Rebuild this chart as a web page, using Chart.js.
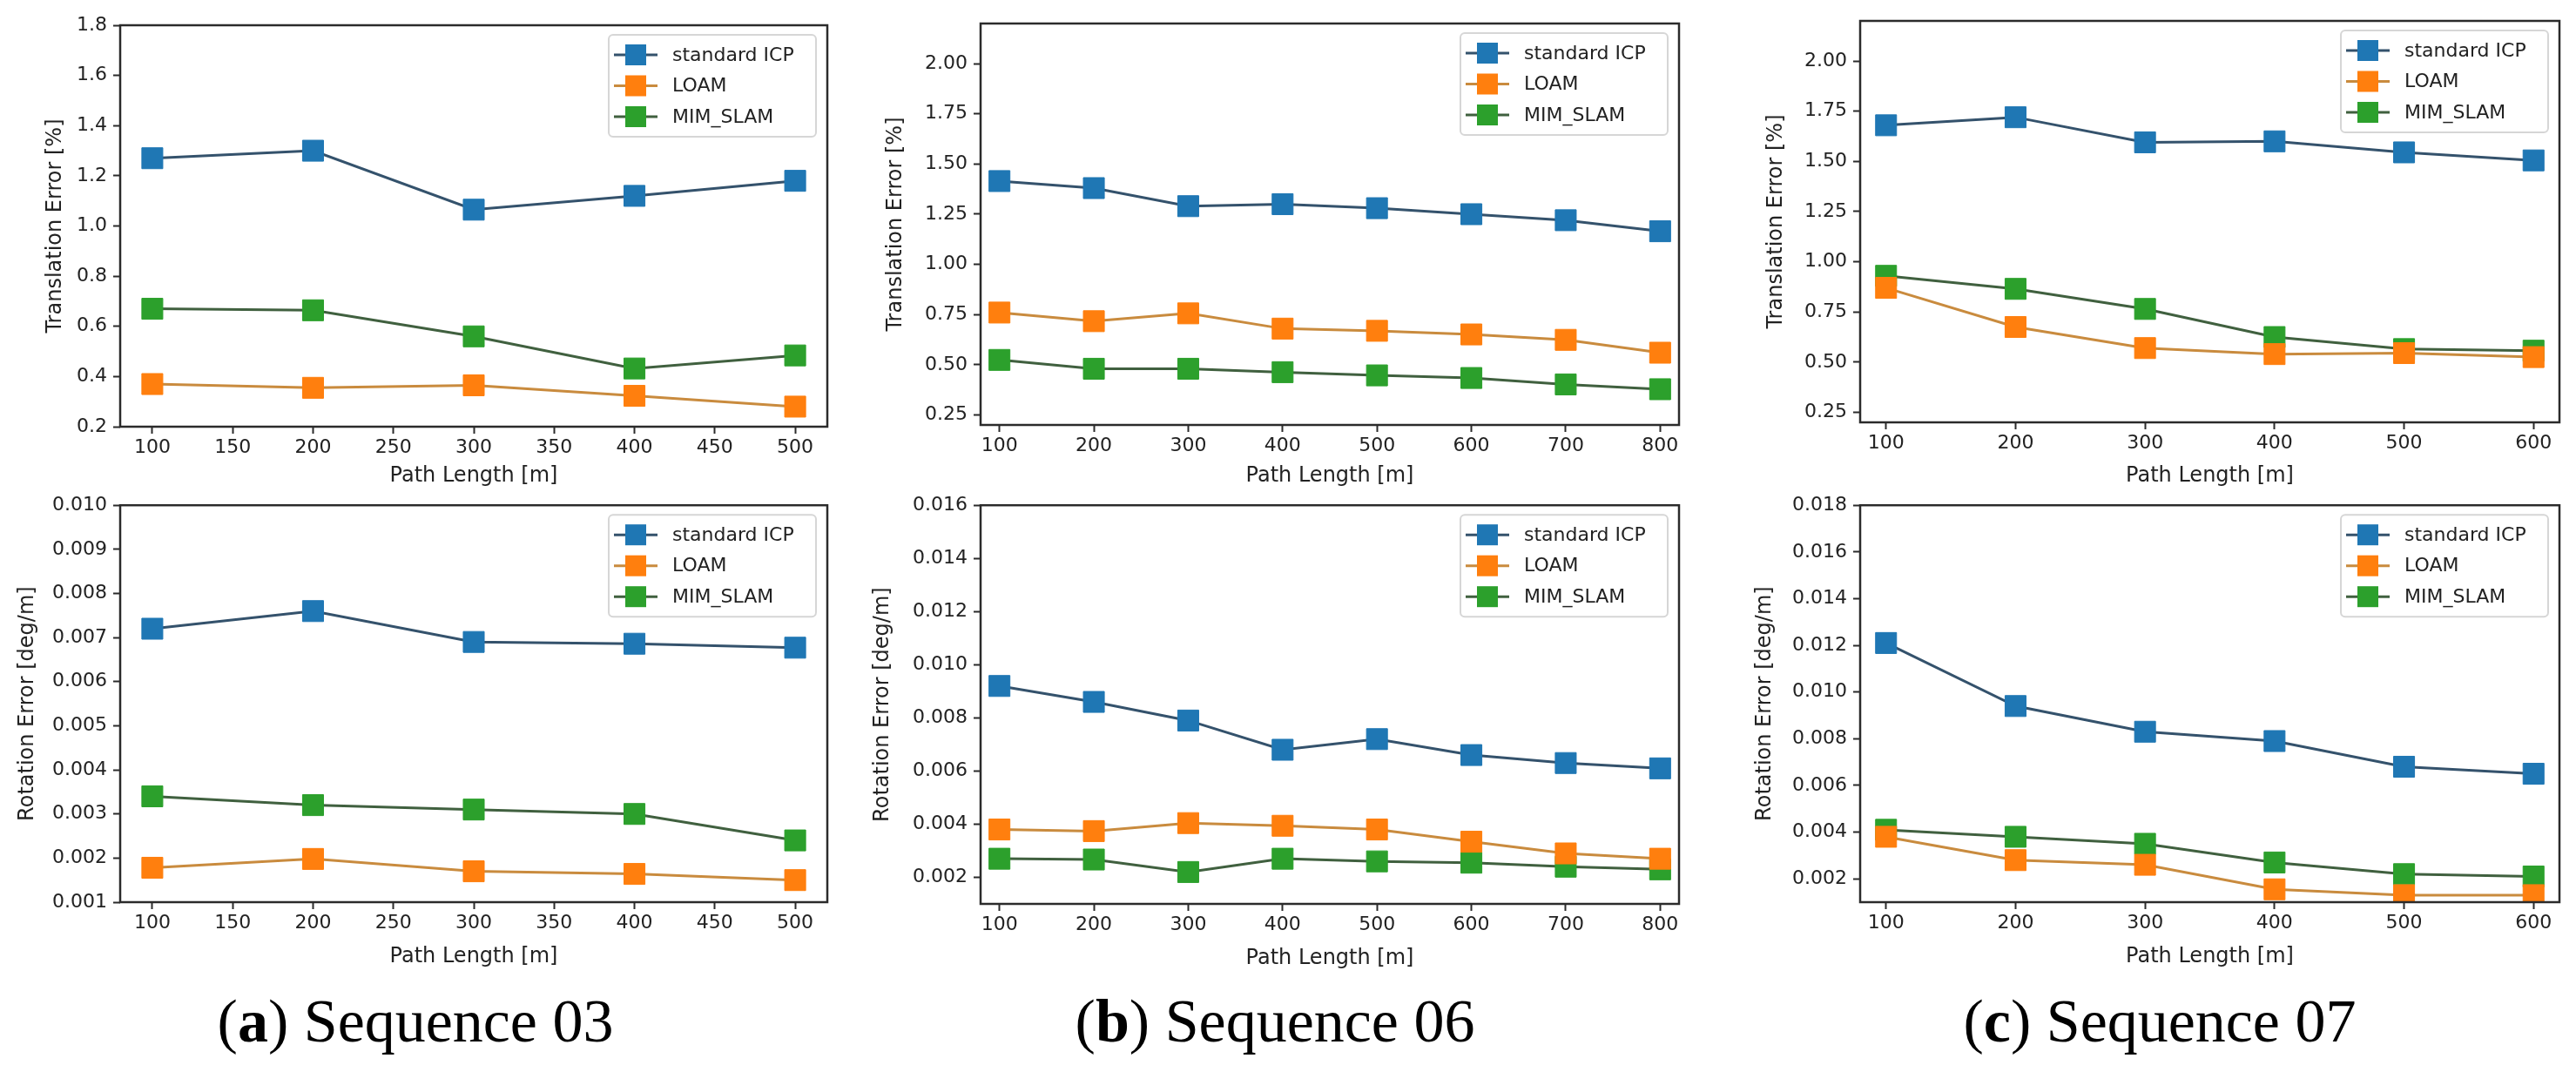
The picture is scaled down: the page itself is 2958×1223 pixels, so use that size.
<!DOCTYPE html>
<html>
<head>
<meta charset="utf-8">
<script src="https://cdn.jsdelivr.net/npm/chart.js@4"></script>
<style>
  html, body { margin: 0; padding: 0; background: #ffffff; }
  body { width: 2958px; height: 1223px; position: relative; overflow: hidden; }
  canvas { position: absolute; }
  .cap { position: absolute; width: 700px; text-align: center; font-family: "Liberation Serif", "DejaVu Serif", serif; font-size: 70px; line-height: 70px; color: #000; }
</style>
</head>
<body>
<canvas id="c0"></canvas>
<canvas id="c1"></canvas>
<canvas id="c2"></canvas>
<canvas id="c3"></canvas>
<canvas id="c4"></canvas>
<canvas id="c5"></canvas>
<div class="cap" style="left:127px; top:1138px;">(<b>a</b>) Sequence 03</div>
<div class="cap" style="left:1114px; top:1138px;">(<b>b</b>) Sequence 06</div>
<div class="cap" style="left:2130px; top:1138px;">(<b>c</b>) Sequence 07</div>
<script>
// ---------- DATA ----------
const seriesNames = ["standard ICP", "LOAM", "MIM_SLAM"];

const seq03Lengths = [100, 200, 300, 400, 500];
const seq03TransICP  = [1.27, 1.30, 1.065, 1.12, 1.18];
const seq03TransLOAM = [0.37, 0.355, 0.365, 0.323, 0.28];
const seq03TransMIM  = [0.67, 0.664, 0.56, 0.432, 0.484];
const seq03RotICP    = [0.0072, 0.0076, 0.0069, 0.00686, 0.00677];
const seq03RotLOAM   = [0.00178, 0.00198, 0.0017, 0.00164, 0.0015];
const seq03RotMIM    = [0.0034, 0.0032, 0.0031, 0.003, 0.0024];

const seq06Lengths = [100, 200, 300, 400, 500, 600, 700, 800];
const seq06TransICP  = [1.415, 1.38, 1.29, 1.30, 1.28, 1.25, 1.22, 1.165];
const seq06TransLOAM = [0.76, 0.717, 0.756, 0.68, 0.669, 0.651, 0.624, 0.56];
const seq06TransMIM  = [0.524, 0.48, 0.48, 0.463, 0.447, 0.434, 0.402, 0.378];
const seq06RotICP    = [0.0092, 0.0086, 0.0079, 0.0068, 0.0072, 0.0066, 0.0063, 0.0061];
const seq06RotLOAM   = [0.0038, 0.00374, 0.00404, 0.00394, 0.0038, 0.00334, 0.0029, 0.0027];
const seq06RotMIM    = [0.0027, 0.00267, 0.0022, 0.0027, 0.0026, 0.00255, 0.0024, 0.0023];

const seq07Lengths = [100, 200, 300, 400, 500, 600];
const seq07TransICP  = [1.68, 1.72, 1.595, 1.60, 1.545, 1.505];
const seq07TransLOAM = [0.87, 0.675, 0.57, 0.54, 0.545, 0.525];
const seq07TransMIM  = [0.93, 0.865, 0.765, 0.625, 0.565, 0.557];
const seq07RotICP    = [0.0121, 0.0094, 0.0083, 0.0079, 0.0068, 0.0065];
const seq07RotLOAM   = [0.0038, 0.0028, 0.0026, 0.00155, 0.0013, 0.0013];
const seq07RotMIM    = [0.0041, 0.0038, 0.0035, 0.0027, 0.0022, 0.0021];

const xTicks03 = [100, 150, 200, 250, 300, 350, 400, 450, 500];
const xTicks06 = [100, 200, 300, 400, 500, 600, 700, 800];
const xTicks07 = [100, 200, 300, 400, 500, 600];
const yTicksTrans03 = [0.2, 0.4, 0.6, 0.8, 1.0, 1.2, 1.4, 1.6, 1.8];
const yTicksRot03   = [0.001, 0.002, 0.003, 0.004, 0.005, 0.006, 0.007, 0.008, 0.009, 0.010];
const yTicksTrans06 = [0.25, 0.50, 0.75, 1.00, 1.25, 1.50, 1.75, 2.00];
const yTicksRot06   = [0.002, 0.004, 0.006, 0.008, 0.010, 0.012, 0.014, 0.016];
const yTicksTrans07 = [0.25, 0.50, 0.75, 1.00, 1.25, 1.50, 1.75, 2.00];
const yTicksRot07   = [0.002, 0.004, 0.006, 0.008, 0.010, 0.012, 0.014, 0.016, 0.018];

// ---------- STYLE ----------
const markerColors = ["#1f77b4", "#ff7f0e", "#2ca02c"];
const lineColors   = ["#34526c", "#c98b3e", "#40603f"];
const inkColor = "#222222";
const tickFont = { family: "'DejaVu Sans', sans-serif", size: 22 };
const titleFont = { family: "'DejaVu Sans', sans-serif", size: 24 };

const framePlugin = {
  id: 'frame',
  afterDatasetsDraw(chart) {
    const { ctx, chartArea: a } = chart;
    ctx.save();
    ctx.strokeStyle = "#2b2b2b";
    ctx.lineWidth = 2.5;
    ctx.strokeRect(a.left, a.top, a.right - a.left, a.bottom - a.top);
    ctx.restore();
  }
};

const boxLegendPlugin = {
  id: 'boxLegend',
  afterDraw(chart) {
    const { ctx, chartArea: a } = chart;
    const w = 238, h = 117;
    const x = a.right - 13 - w, y = a.top + 11;
    ctx.save();
    ctx.beginPath();
    if (ctx.roundRect) ctx.roundRect(x, y, w, h, 5); else ctx.rect(x, y, w, h);
    ctx.fillStyle = "rgba(255,255,255,0.85)";
    ctx.fill();
    ctx.strokeStyle = "#d6d6d6";
    ctx.lineWidth = 2;
    ctx.stroke();
    chart.data.datasets.forEach((ds, i) => {
      const cy = y + 23 + i * 35.5;
      ctx.strokeStyle = ds.borderColor;
      ctx.lineWidth = 3;
      ctx.beginPath();
      ctx.moveTo(x + 6, cy);
      ctx.lineTo(x + 56, cy);
      ctx.stroke();
      ctx.fillStyle = ds.pointBackgroundColor;
      ctx.fillRect(x + 31 - 12, cy - 12, 24, 24);
      ctx.fillStyle = inkColor;
      ctx.font = "22px 'DejaVu Sans', sans-serif";
      ctx.textBaseline = "middle";
      ctx.textAlign = "left";
      ctx.fillText(ds.label, x + 73, cy + 1);
    });
    ctx.restore();
  }
};

function makeChart(id, cfg) {
  const canvas = document.getElementById(id);
  canvas.width = cfg.cw; canvas.height = cfg.ch;
  canvas.style.left = cfg.cx + "px"; canvas.style.top = cfg.cy + "px";
  canvas.style.width = cfg.cw + "px"; canvas.style.height = cfg.ch + "px";
  const lh = titleFont.size * 1.2;
  const padLeft = cfg.yTitleX - cfg.cx - lh / 2;
  const yAxisW = cfg.L - cfg.cx - padLeft;
  const padTop = cfg.T - cfg.cy;
  const padRight = cfg.cx + cfg.cw - cfg.R;
  const xAxisBottom = cfg.xTitleY + lh / 2;
  const padBottom = cfg.cy + cfg.ch - xAxisBottom;
  const xAxisH = xAxisBottom - cfg.B;

  const datasets = cfg.series.map((vals, i) => ({
    label: seriesNames[i],
    data: cfg.x.map((xv, j) => ({ x: xv, y: vals[j] })),
    borderColor: lineColors[i],
    borderWidth: 3,
    backgroundColor: markerColors[i],
    pointStyle: 'rect',
    pointRadius: 17,
    pointBackgroundColor: markerColors[i],
    pointBorderColor: markerColors[i],
    pointBorderWidth: 1,
    tension: 0,
    fill: false
  }));

  const gridOpts = { display: true, drawOnChartArea: false, drawTicks: true, tickLength: 8, tickWidth: 2, tickColor: "#2b2b2b" };

  new Chart(canvas, {
    type: 'line',
    data: { datasets },
    options: {
      responsive: false,
      animation: false,
      devicePixelRatio: 1,
      layout: { padding: { left: padLeft, right: padRight, top: padTop, bottom: padBottom } },
      plugins: { legend: { display: false }, tooltip: { enabled: false } },
      scales: {
        x: {
          type: 'linear',
          min: cfg.xMin, max: cfg.xMax,
          afterBuildTicks: s => { s.ticks = cfg.xTicks.map(v => ({ value: v })); },
          afterFit: s => { s.height = xAxisH; },
          ticks: { autoSkip: false, maxRotation: 0, minRotation: 0, padding: 3, color: inkColor, font: tickFont, callback: v => String(v) },
          grid: gridOpts,
          border: { display: false },
          title: { display: true, text: "Path Length [m]", padding: 0, color: inkColor, font: titleFont }
        },
        y: {
          type: 'linear',
          min: cfg.yMin, max: cfg.yMax,
          afterBuildTicks: s => { s.ticks = cfg.yTicks.map(v => ({ value: v })); },
          afterFit: s => { s.width = yAxisW; },
          ticks: { autoSkip: false, padding: 7, color: inkColor, font: tickFont, callback: v => Number(v).toFixed(cfg.dec) },
          grid: gridOpts,
          border: { display: false },
          title: { display: true, text: cfg.yTitle, padding: 0, color: inkColor, font: titleFont }
        }
      }
    },
    plugins: [framePlugin, boxLegendPlugin]
  });
}

const TR = "Translation Error [%]";
const RO = "Rotation Error [deg/m]";

makeChart("c0", { cx: 0, cy: 0, cw: 975, ch: 575, L: 138, R: 950, T: 29, B: 490, yTitleX: 64, xTitleY: 547,
  x: seq03Lengths, series: [seq03TransICP, seq03TransLOAM, seq03TransMIM], xMin: 80, xMax: 520, xTicks: xTicks03,
  yMin: 0.2, yMax: 1.8, yTicks: yTicksTrans03, dec: 1, yTitle: TR });
makeChart("c1", { cx: 985, cy: 0, cw: 965, ch: 575, L: 1126, R: 1928, T: 27, B: 488, yTitleX: 1029, xTitleY: 547,
  x: seq06Lengths, series: [seq06TransICP, seq06TransLOAM, seq06TransMIM], xMin: 80, xMax: 820, xTicks: xTicks06,
  yMin: 0.2, yMax: 2.2, yTicks: yTicksTrans06, dec: 2, yTitle: TR });
makeChart("c2", { cx: 1995, cy: 0, cw: 963, ch: 575, L: 2136, R: 2939, T: 24, B: 485, yTitleX: 2040, xTitleY: 547,
  x: seq07Lengths, series: [seq07TransICP, seq07TransLOAM, seq07TransMIM], xMin: 80, xMax: 620, xTicks: xTicks07,
  yMin: 0.2, yMax: 2.2, yTicks: yTicksTrans07, dec: 2, yTitle: TR });
makeChart("c3", { cx: 0, cy: 560, cw: 975, ch: 570, L: 138, R: 950, T: 580, B: 1036, yTitleX: 32, xTitleY: 1099,
  x: seq03Lengths, series: [seq03RotICP, seq03RotLOAM, seq03RotMIM], xMin: 80, xMax: 520, xTicks: xTicks03,
  yMin: 0.001, yMax: 0.010, yTicks: yTicksRot03, dec: 3, yTitle: RO });
makeChart("c4", { cx: 985, cy: 560, cw: 965, ch: 570, L: 1126, R: 1928, T: 580, B: 1038, yTitleX: 1014, xTitleY: 1101,
  x: seq06Lengths, series: [seq06RotICP, seq06RotLOAM, seq06RotMIM], xMin: 80, xMax: 820, xTicks: xTicks06,
  yMin: 0.001, yMax: 0.016, yTicks: yTicksRot06, dec: 3, yTitle: RO });
makeChart("c5", { cx: 1995, cy: 560, cw: 963, ch: 570, L: 2136, R: 2939, T: 578, B: 1036, yTitleX: 2027, xTitleY: 1099,
  x: seq07Lengths, series: [seq07RotICP, seq07RotLOAM, seq07RotMIM], xMin: 80, xMax: 620, xTicks: xTicks07,
  yMin: 0.001, yMax: 0.018, yTicks: yTicksRot07, dec: 3, yTitle: RO });
</script>
</body>
</html>
